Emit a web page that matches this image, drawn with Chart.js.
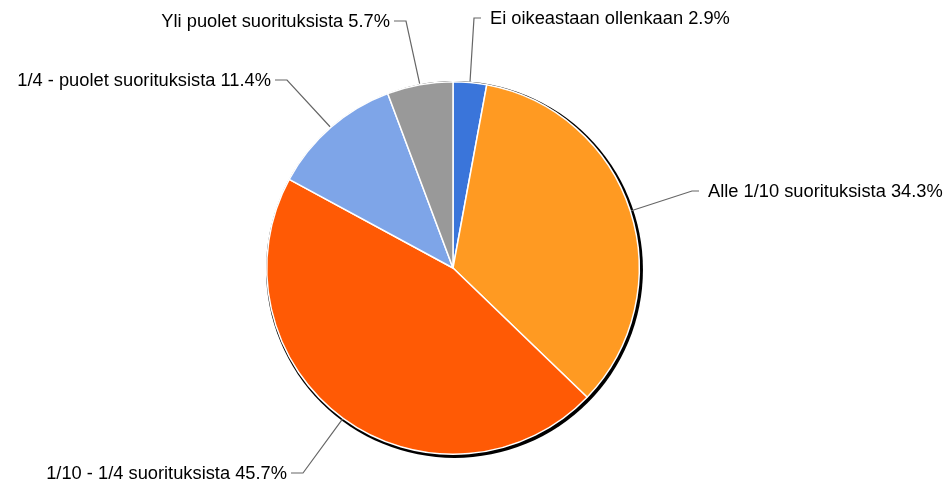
<!DOCTYPE html>
<html>
<head>
<meta charset="utf-8">
<script src="https://cdn.jsdelivr.net/npm/chart.js@4/dist/chart.umd.min.js"></script>
<style>
  html, body { margin: 0; padding: 0; background: #fff; }
  #wrap { width: 946px; height: 487px; position: relative; }
</style>
</head>
<body>
<div id="wrap"><canvas id="chart"></canvas></div>
<script>
const categories = [
  "Ei oikeastaan ollenkaan",
  "Alle 1/10 suorituksista",
  "1/10 - 1/4 suorituksista",
  "1/4 - puolet suorituksista",
  "Yli puolet suorituksista",
]
const percents = [2.9, 34.3, 45.7, 11.4, 5.7]
const colors = ["#3a75da", "#ff9a22", "#ff5a05", "#7ea5e8", "#999999"]

// label placement: elbow point of the leader line and which side the text sits on
const labelLayout = [
  { elbow: [474, 18], side: "right" },
  { elbow: [692, 191], side: "right" },
  { elbow: [303, 473], side: "left" },
  { elbow: [287, 80], side: "left" },
  { elbow: [406, 21], side: "left" },
]

const shadowPlugin = {
  id: "shadow",
  beforeDatasetsDraw(chart) {
    const arc = chart.getDatasetMeta(0).data[0]
    if (!arc) return
    const { x, y, outerRadius } = arc.getProps(["x", "y", "outerRadius"], true)
    const ctx = chart.ctx
    ctx.save()
    ctx.fillStyle = "#000"
    ctx.beginPath()
    ctx.arc(x + 1.5, y + 1.5, outerRadius + 2.2, 0, Math.PI * 2)
    ctx.fill()
    ctx.restore()
  },
}

const labelPlugin = {
  id: "leaderLabels",
  afterDatasetsDraw(chart) {
    const ctx = chart.ctx
    const meta = chart.getDatasetMeta(0)
    ctx.save()
    ctx.font = "18.3px 'Liberation Sans', Arial, sans-serif"
    ctx.textBaseline = "middle"
    meta.data.forEach((arc, i) => {
      const { x, y, startAngle, endAngle, outerRadius } = arc.getProps(
        ["x", "y", "startAngle", "endAngle", "outerRadius"], true)
      const mid = (startAngle + endAngle) / 2
      const sx = x + Math.cos(mid) * (outerRadius + 1)
      const sy = y + Math.sin(mid) * (outerRadius + 1)
      const lay = labelLayout[i]
      const [ex, ey] = lay.elbow
      const hx = lay.side === "right" ? ex + 7 : ex - 12
      ctx.strokeStyle = "#666"
      ctx.lineWidth = 1.2
      ctx.beginPath()
      ctx.moveTo(sx, sy)
      ctx.lineTo(ex, ey)
      ctx.lineTo(hx, ey)
      ctx.stroke()
      const text = categories[i] + " " + percents[i].toFixed(1) + "%"
      ctx.fillStyle = "#000"
      ctx.textAlign = lay.side === "right" ? "left" : "right"
      ctx.fillText(text, lay.side === "right" ? hx + 9 : hx - 4, ey + 1)
    })
    ctx.restore()
  },
}

new Chart(document.getElementById("chart"), {
  type: "pie",
  data: {
    labels: categories,
    datasets: [{
      data: percents,
      backgroundColor: colors,
      borderColor: "#fff",
      borderWidth: 1.5,
    }],
  },
  options: {
    responsive: true,
    maintainAspectRatio: false,
    animation: false,
    layout: { padding: { top: 81, bottom: 32, left: 266, right: 306 } },
    plugins: {
      legend: { display: false },
      tooltip: { enabled: false },
    },
  },
  plugins: [shadowPlugin, labelPlugin],
})
</script>
</body>
</html>
